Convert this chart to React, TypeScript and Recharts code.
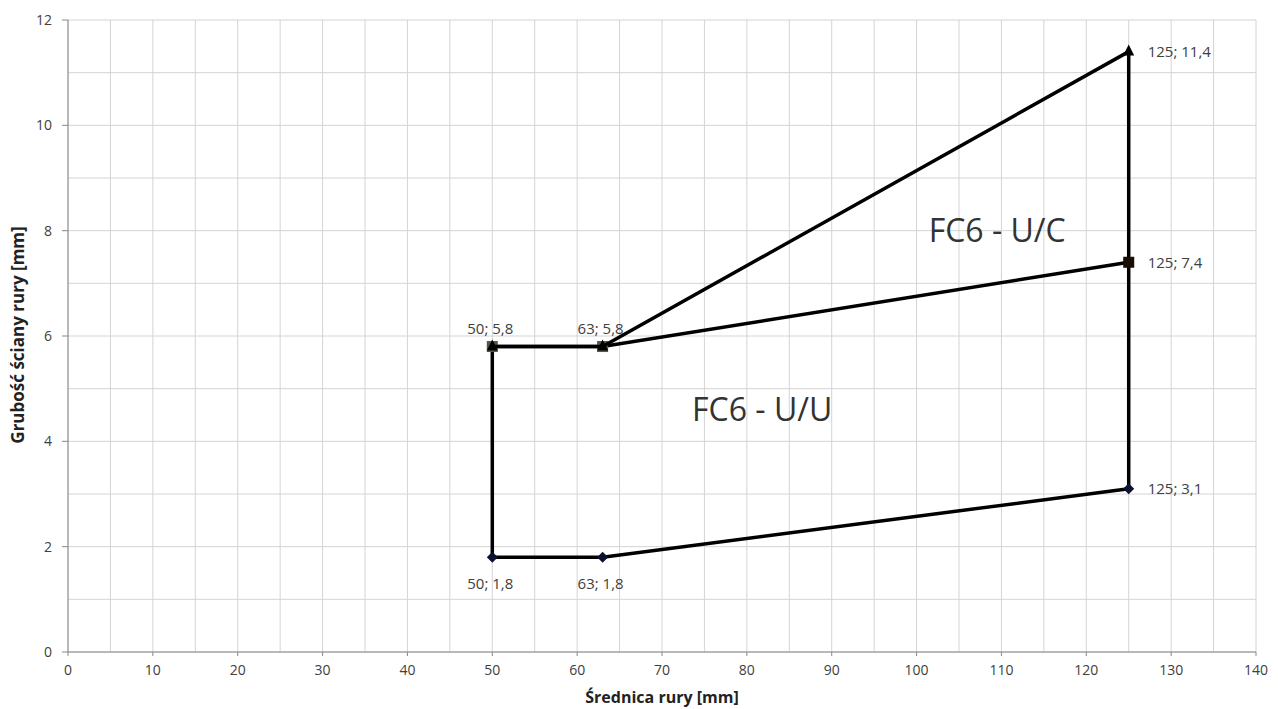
import React from 'react';
import {
  ScatterChart,
  Scatter,
  XAxis,
  YAxis,
  CartesianGrid,
  LabelList,
} from 'recharts';

const xTicks = [0, 10, 20, 30, 40, 50, 60, 70, 80, 90, 100, 110, 120, 130, 140];
const yTicks = [0, 2, 4, 6, 8, 10, 12];
const xGrid = [0, 5, 10, 15, 20, 25, 30, 35, 40, 45, 50, 55, 60, 65, 70, 75, 80, 85, 90, 95, 100, 105, 110, 115, 120, 125, 130, 135, 140];
const yGrid = [0, 1, 2, 3, 4, 5, 6, 7, 8, 9, 10, 11, 12];

const lowerSeries = [
  { x: 50, y: 1.8 },
  { x: 63, y: 1.8 },
  { x: 125, y: 3.1 },
];
const middleSeries = [
  { x: 50, y: 5.8 },
  { x: 63, y: 5.8 },
  { x: 125, y: 7.4 },
];
const upperSeries = [
  { x: 50, y: 5.8 },
  { x: 63, y: 5.8 },
  { x: 125, y: 11.4 },
];
const leftEdge = [
  { x: 50, y: 1.8 },
  { x: 50, y: 5.8 },
];
const rightEdge = [
  { x: 125, y: 3.1 },
  { x: 125, y: 11.4 },
];
const regionNames = [
  { x: 109.5, y: 8.0, text: 'FC6 - U/C' },
  { x: 81.8, y: 4.6, text: 'FC6 - U/U' },
];

const FONT = '"Open Sans", "Liberation Sans", sans-serif';
const TEXT = '#404040';

const fmt = (x: number, y: number) => `${x}; ${String(y).replace('.', ',')}`;

const makeLabel = (side: 'top' | 'bottom' | 'none') => (props: any) => {
  const { x, y, width, height, value } = props;
  const cx = x + (width || 0) / 2;
  const cy = y + (height || 0) / 2;
  const p = value as { x: number; y: number };
  if (!p) return null;
  if (p.x === 125) {
    return (
      <text x={cx + 19} y={cy} dy="0.35em" fontSize={15} fontFamily={FONT} fill={TEXT} textAnchor="start">
        {fmt(p.x, p.y)}
      </text>
    );
  }
  if (side === 'none') return null;
  return (
    <text
      x={cx - 2}
      y={side === 'top' ? cy - 18 : cy + 27}
      dy="0.35em"
      fontSize={15}
      fontFamily={FONT}
      fill={TEXT}
      textAnchor="middle"
    >
      {fmt(p.x, p.y)}
    </text>
  );
};

const Diamond = (props: any) => {
  const { cx, cy } = props;
  const r = 5.5;
  return <path d={`M${cx},${cy - r}L${cx + r},${cy}L${cx},${cy + r}L${cx - r},${cy}Z`} fill="#0b1230" />;
};
const OliveSquare = (props: any) => {
  const { cx, cy, payload } = props;
  const s = 11;
  const fill = payload.x === 125 ? '#1c0c06' : '#5a5641';
  return <rect x={cx - s / 2} y={cy - s / 2} width={s} height={s} fill={fill} />;
};
const Triangle = (props: any) => {
  const { cx, cy } = props;
  return <path d={`M${cx},${cy - 7}L${cx + 5.5},${cy + 4}L${cx - 5.5},${cy + 4}Z`} fill="#000" />;
};
const NoShape = () => <g />;
const RegionText = (props: any) => {
  const { cx, cy, payload } = props;
  return (
    <text x={cx} y={cy} dy="0.35em" textAnchor="middle" fontSize={32} fontFamily={FONT} fill="#333">
      {payload.text}
    </text>
  );
};

const lineStyle = { stroke: '#000', strokeWidth: 3.5 };

export default function App() {
  return (
    <div style={{ position: 'absolute', left: 0, top: 0, width: 1278, height: 709, background: '#fff' }}>
      <ScatterChart width={1278} height={709} margin={{ top: 20, right: 22, bottom: 0, left: 0 }}>
        <CartesianGrid
          stroke="#d4d4d4"
          strokeWidth={1}
          verticalValues={xGrid}
          horizontalValues={yGrid}
        />
        <XAxis
          type="number"
          dataKey="x"
          domain={[0, 140]}
          ticks={xTicks}
          interval={0}
          height={57}
          axisLine={{ stroke: '#888', strokeWidth: 1 }}
          tickLine={{ stroke: '#888' }}
          tickSize={4}
          tickMargin={9}
          tick={{ fontSize: 14, fontFamily: FONT, fill: TEXT }}
          label={(p: any) => {
            const vb = p.viewBox;
            return (
              <text
                x={vb.x + vb.width / 2}
                y={697}
                textAnchor="middle"
                dy="0.35em"
                fontSize={16}
                fontWeight="bold"
                fontFamily={FONT}
                fill="#222"
              >
                Średnica rury [mm]
              </text>
            );
          }}
        />
        <YAxis
          type="number"
          dataKey="y"
          domain={[0, 12]}
          ticks={yTicks}
          interval={0}
          width={68}
          axisLine={{ stroke: '#888', strokeWidth: 1 }}
          tickLine={{ stroke: '#888' }}
          tickSize={6}
          tickMargin={10}
          tick={{ fontSize: 14, fontFamily: FONT, fill: TEXT }}
          label={() => {
            const cy = 335;
            return (
              <text
                x={18}
                y={cy}
                transform={`rotate(-90, 18, ${cy})`}
                textAnchor="middle"
                dy="0.35em"
                fontSize={17}
                fontWeight="bold"
                fontFamily={FONT}
                fill="#222"
              >
                Grubość ściany rury [mm]
              </text>
            );
          }}
        />
        <Scatter data={leftEdge} line={lineStyle} lineType="joint" shape={NoShape} isAnimationActive={false} />
        <Scatter data={rightEdge} line={lineStyle} lineType="joint" shape={NoShape} isAnimationActive={false} />
        <Scatter data={lowerSeries} line={lineStyle} lineType="joint" shape={Diamond} isAnimationActive={false}>
          <LabelList valueAccessor={(e: any) => e.payload} content={makeLabel('bottom')} />
        </Scatter>
        <Scatter data={middleSeries} line={lineStyle} lineType="joint" shape={OliveSquare} isAnimationActive={false}>
          <LabelList valueAccessor={(e: any) => e.payload} content={makeLabel('top')} />
        </Scatter>
        <Scatter data={upperSeries} line={lineStyle} lineType="joint" shape={Triangle} isAnimationActive={false}>
          <LabelList valueAccessor={(e: any) => e.payload} content={makeLabel('none')} />
        </Scatter>
        <Scatter data={regionNames} shape={RegionText} isAnimationActive={false} />
      </ScatterChart>
    </div>
  );
}
